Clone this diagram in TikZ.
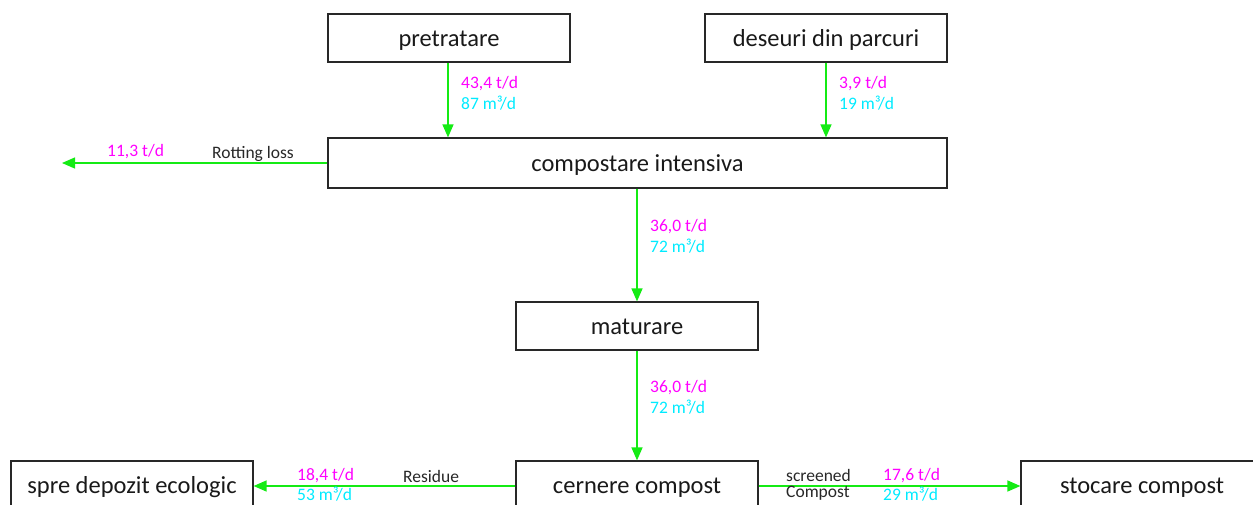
\documentclass[tikz,border=0pt]{standalone}
\usepackage{fontspec}
\setmainfont{Carlito}
\usetikzlibrary{arrows.meta}
\definecolor{boxline}{RGB}{40,40,40}
\definecolor{flow}{RGB}{20,235,20}
\definecolor{massc}{RGB}{255,0,255}
\definecolor{volc}{RGB}{0,235,255}
\definecolor{notec}{RGB}{40,40,40}
\tikzset{
  stage/.style={draw=boxline, line width=1.2pt, minimum width=242pt, minimum height=48pt,
    inner sep=0pt, text height=20pt, text depth=4pt,
    font=\fontsize{24.5}{28}\selectfont, text=black!90},
  wide/.style={stage, minimum width=619pt, minimum height=50pt},
  stream/.style={draw=flow, line width=1.3pt, -{Triangle[length=13pt,width=11pt]}},
  mass/.style={anchor=west, inner sep=0pt, text=massc, font=\fontsize{17.5}{20}\selectfont},
  vol/.style={anchor=west, inner sep=0pt, text=volc, font=\fontsize{17.5}{20}\selectfont},
  note/.style={anchor=west, inner sep=0pt, text=notec, font=\fontsize{17.5}{20}\selectfont},
}
\begin{document}
\begin{tikzpicture}[x=1pt,y=-1pt]
\useasboundingbox (0,0) rectangle (1253,504);
% process stages
\node[stage] (pre) at (449,38) {pretratare};
\node[stage] (park) at (826,38) {deseuri din parcuri};
\node[wide] (int) at (637.5,163) {compostare intensiva};
\node[stage] (mat) at (637,326) {maturare};
\node[stage] (scr) at (637,485) {cernere compost};
\node[stage] (dep) at (132,485) {spre depozit ecologic};
\node[stage] (sto) at (1142,485) {stocare compost};
\coordinate (loss) at (62,163);
% material flows
\draw[stream] (pre.south -| 448,0) -- (int.north -| 448,0);
\draw[stream] (park.south -| 826,0) -- (int.north -| 826,0);
\draw[stream] (int.south -| 637,0) -- (mat.north -| 637,0);
\draw[stream] (mat.south -| 637,0) -- (scr.north -| 637,0);
\draw[stream] (int.west) -- (loss);
\draw[stream] (scr.west |- 0,486) -- (dep.east |- 0,486);
\draw[stream] (scr.east |- 0,486) -- (sto.west |- 0,486);
% flow rates
\node[mass] (m1) at (461,84) {43,4 t/d};
\node[vol]  (v1) at (461,103) {87 m³/d};
\node[mass] (m2) at (839,84) {3,9 t/d};
\node[vol]  (v2) at (839,103) {19 m³/d};
\node[mass] (m3) at (107,152) {11,3 t/d};
\node[note] (n3) at (212,154) {Rotting loss};
\node[mass] (m4) at (650,227) {36,0 t/d};
\node[vol]  (v4) at (650,246) {72 m³/d};
\node[mass] (m5) at (650,388) {36,0 t/d};
\node[vol]  (v5) at (650,407) {72 m³/d};
\node[mass] (m6) at (297,476) {18,4 t/d};
\node[vol]  (v6) at (297,494) {53 m³/d};
\node[note] (n6) at (403,476) {Residue};
\node[note] (n7) at (786,475) {screened};
\node[note] (n8) at (786,493) {Compost};
\node[mass] (m7) at (883,476) {17,6 t/d};
\node[vol]  (v7) at (883,494) {29 m³/d};
\end{tikzpicture}
\end{document}
